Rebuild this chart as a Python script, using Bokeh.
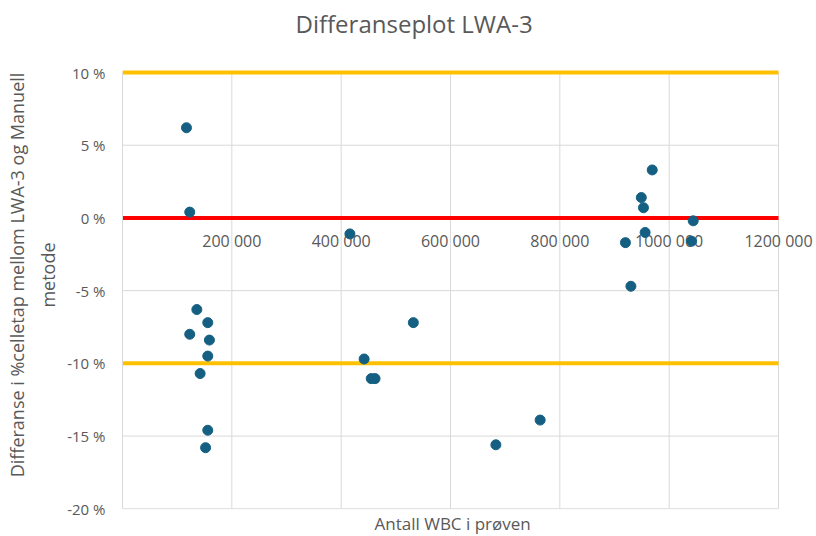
from bokeh.plotting import figure
from bokeh.models import (FixedTicker, CustomJSTickFormatter, Range1d,
                          ColumnDataSource, LabelSet, Title)
from bokeh.core.properties import value
from bokeh.embed import file_html
from bokeh.resources import INLINE

# Data
wbc = [117000, 123000, 416000, 969000, 949000, 953000, 1044000, 956000, 920000,
       1041000, 930000, 136000, 156000, 123000, 159000, 156000, 142000, 156000,
       152000, 442000, 455000, 462000, 532000, 764000, 683000]
diff_pct = [6.2, 0.4, -1.1, 3.3, 1.4, 0.7, -0.2, -1.0, -1.7,
            -1.6, -4.7, -6.3, -7.2, -8.0, -8.4, -9.5, -10.7, -14.6,
            -15.8, -9.7, -11.05, -11.05, -7.2, -13.9, -15.6]

limit_levels = [10, -10]
mean_level = [0]
x_extent = [0, 1200000]
y_extent = [-20, 10]

x_ticks = [200000, 400000, 600000, 800000, 1000000, 1200000]
x_tick_labels = ["200 000", "400 000", "600 000", "800 000", "1000 000", "1200 000"]
y_ticks = [-20, -15, -10, -5, 0, 5, 10]

title_text = "Differanseplot LWA-3"
x_title = "Antall WBC i prøven"
y_title = "Differanse i %celletap mellom LWA-3 og Manuell\nmetode"

FONT = "Open Sans"
GREY = "#595959"
GRID = "#d9d9d9"

# The frame is widened to the right and top edges so that the last tick label
# is not cut and the title can sit high; grid lines and the axis are bounded
# to the data extent.
x_view_end = x_extent[1] * 694 / 656
y_view_end = y_extent[1] + 32 / 14.54

p = figure(width=816, height=536, output_backend="svg", toolbar_location=None,
           x_range=Range1d(x_extent[0], x_view_end),
           y_range=Range1d(y_extent[0] - 0.05, y_view_end),
           x_axis_location=None,
           min_border_left=122, min_border_right=0,
           min_border_top=40, min_border_bottom=27)
p.outline_line_color = None
p.background_fill_color = "white"
p.border_fill_color = "white"
p.xgrid.visible = False
p.ygrid.visible = False

p.add_layout(Title(text=title_text, align="left", offset=173, standoff=2,
                   vertical_align="bottom", text_font=FONT,
                   text_font_size="24px", text_font_style="normal",
                   text_color=GREY), "above")
p.add_layout(Title(text=x_title, align="left", offset=252, standoff=0,
                   vertical_align="bottom", text_font=FONT,
                   text_font_size="17px", text_font_style="normal",
                   text_color=GREY), "below")

# grid lines, limited to the data extent
vg = p.segment(x0=x_ticks, x1=x_ticks,
               y0=[y_extent[0]] * len(x_ticks), y1=[y_extent[1]] * len(x_ticks),
               line_color=GRID, line_width=1)
hg = p.segment(x0=[x_extent[0]] * len(y_ticks), x1=[x_extent[1]] * len(y_ticks),
               y0=y_ticks, y1=y_ticks, line_color=GRID, line_width=1)
vg.level = "underlay"
hg.level = "underlay"

# y axis
yax = p.yaxis[0]
yax.ticker = FixedTicker(ticks=y_ticks)
yax.bounds = (y_extent[0], y_extent[1])
yax.formatter = CustomJSTickFormatter(code="return tick.toFixed(0) + ' %';")
yax.axis_line_color = GRID
yax.major_tick_line_color = None
yax.minor_tick_line_color = None
yax.major_label_text_font = FONT
yax.major_label_text_font_size = "15px"
yax.major_label_text_color = GREY
yax.major_label_standoff = 11
yax.axis_label = y_title
yax.axis_label_text_font = FONT
yax.axis_label_text_font_size = "18px"
yax.axis_label_text_font_style = "normal"
yax.axis_label_text_color = GREY
yax.axis_label_text_line_height = 1.3
yax.axis_label_standoff = 4

# x tick labels sit under the 0-line, as in the reference
tick_src = ColumnDataSource(data=dict(x=x_ticks, y=[0] * len(x_ticks),
                                      t=x_tick_labels))
p.add_layout(LabelSet(x="x", y="y", text="t", source=tick_src,
                      y_offset=-23, text_align="center", text_baseline="middle",
                      text_font=value(FONT), text_font_size="16px",
                      text_color=GREY))

# limit lines
p.segment(x0=[x_extent[0]] * len(limit_levels), x1=[x_extent[1]] * len(limit_levels),
          y0=limit_levels, y1=limit_levels, line_color="#FFC000", line_width=4)
p.segment(x0=[x_extent[0]], x1=[x_extent[1]], y0=mean_level, y1=mean_level,
          line_color="#FF0000", line_width=4)

src = ColumnDataSource(data=dict(x=wbc, y=diff_pct))
r = p.scatter("x", "y", source=src, size=10, fill_color="#156082",
              line_color="#156082")
r.level = "overlay"

open("out.html", "w").write(file_html(p, INLINE))
